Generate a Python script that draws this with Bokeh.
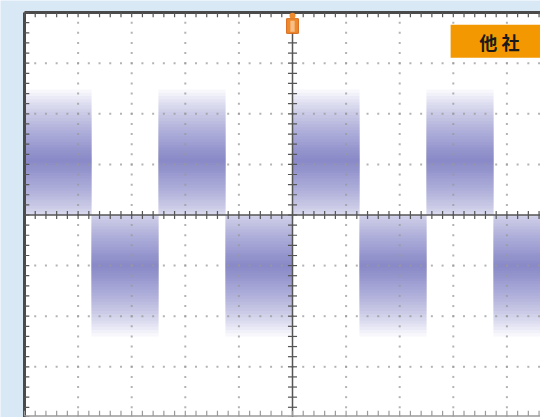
import numpy as np
from bokeh.plotting import figure
from bokeh.models import ColumnDataSource
from bokeh.core.properties import value
from bokeh.embed import file_html
from bokeh.resources import INLINE

# ---- data (in screen divisions) ----
burst_left = [-5.0, -3.75, -2.5, -1.25, 0.0, 1.25, 2.5, 3.75]
burst_right = [-3.75, -2.5, -1.25, 0.0, 1.25, 2.5, 3.75, 5.0]
burst_level = [1.08, -1.0, 1.08, -1.0, 1.08, -1.0, 1.08, -1.0]
noise_max_spread = 1.4

grid_x = [-4, -3, -2, -1, 1, 2, 3, 4]
grid_y = [-3, -2, -1, 1, 2, 3]
label_text = ["他 社"]

# ---- figure ----
PXX, PXY = 53.6, 50.6
CX, CY = 292.0, 214.5
W, H = 540, 417
x0, x1 = -CX / PXX, (W - CX) / PXX
y1, y0 = CY / PXY, -(H - CY) / PXY

p = figure(width=W, height=H, x_range=(x0, x1), y_range=(y0, y1),
           output_backend="svg", toolbar_location=None, min_border=0)
p.axis.visible = False
p.grid.visible = False
p.outline_line_color = None
p.background_fill_color = "#d9e8f5"
p.border_fill_color = "#d9e8f5"

# screen area
p.quad(left=[-5], right=[6], bottom=[-4.2], top=[4], fill_color="white", line_color=None)

# bursts (persistence-like density layers, smooth falloff)
n_layers = 24
spreads = noise_max_spread * (1 - np.linspace(0, 1, n_layers, endpoint=False)) ** 1.1
for s in spreads:
    bots, tops = [], []
    for lv in burst_level:
        if lv > 0:
            bots.append(max(lv - s, 0.0)); tops.append(lv + s)
        else:
            bots.append(lv - s); tops.append(min(lv + s, 0.0))
    src = ColumnDataSource(dict(left=burst_left, right=burst_right, bottom=bots, top=tops))
    p.quad(left="left", right="right", bottom="bottom", top="top", source=src,
           fill_color="#5052ae", fill_alpha=0.04, line_color=None)

# dotted grid
minor = np.round(np.arange(-5, 5.01, 0.2), 3)
minor_y = np.round(np.arange(-4, 4.01, 0.2), 3)
gx, gy = [], []
for yv in grid_y:
    gx += list(minor); gy += [yv] * len(minor)
for xv in grid_x:
    gx += [xv] * len(minor_y); gy += list(minor_y)
p.scatter(gx, gy, marker="square", size=2, fill_color="#9a9a9a", line_color=None, alpha=0.75)

# centre axes with ticks
p.segment(x0=[-5], y0=[0], x1=[6], y1=[0], line_color="#555555", line_width=1.5)
p.segment(x0=[0], y0=[-4.2], x1=[0], y1=[4], line_color="#555555", line_width=1.5)
th = 0.08
p.segment(x0=minor, y0=[-th] * len(minor), x1=minor, y1=[th] * len(minor),
          line_color="#555555", line_width=1.2)
p.segment(x0=[-th * 1.06] * len(minor_y), y0=minor_y, x1=[th * 1.06] * len(minor_y), y1=minor_y,
          line_color="#555555", line_width=1.2)

# border frame with ticks
p.segment(x0=[-5], y0=[4], x1=[6], y1=[4], line_color="#4a4a4a", line_width=3)
p.segment(x0=[-5], y0=[-4.2], x1=[-5], y1=[4], line_color="#4a4a4a", line_width=3)
p.segment(x0=[-5], y0=[-3.97], x1=[6], y1=[-3.97], line_color="#9a9a9a", line_width=1.5)
p.segment(x0=minor, y0=[4] * len(minor), x1=minor, y1=[4 - 0.09] * len(minor),
          line_color="#555555", line_width=1.2)
p.segment(x0=[-5] * len(minor_y), y0=minor_y, x1=[-5 + 0.09] * len(minor_y), y1=minor_y,
          line_color="#555555", line_width=1.2)
p.segment(x0=minor, y0=[-3.97] * len(minor), x1=minor, y1=[-3.97 + 0.1] * len(minor),
          line_color="#9a9a9a", line_width=1.2)

# trigger marker
p.quad(left=[-0.11], right=[0.11], bottom=[3.59], top=[3.88],
       fill_color="#ef8a2c", line_color="#d8691a", line_width=1)
p.quad(left=[-0.04], right=[0.04], bottom=[3.62], top=[3.84],
       fill_color="#f7c08a", line_color=None)
p.scatter([0], [3.94], marker="circle", size=6, fill_color="#ef8a2c", line_color=None)

# label box
p.quad(left=[2.95], right=[6], bottom=[3.11], top=[3.76], fill_color="#f39800", line_color=None)
p.text(x=[3.86], y=[3.42], text=label_text, text_font=value("Noto Sans CJK JP"),
       text_font_style="bold", text_font_size="18px", text_align="center",
       text_baseline="middle", text_color="#1a1a1a")

open("out.html", "w").write(file_html(p, INLINE))
